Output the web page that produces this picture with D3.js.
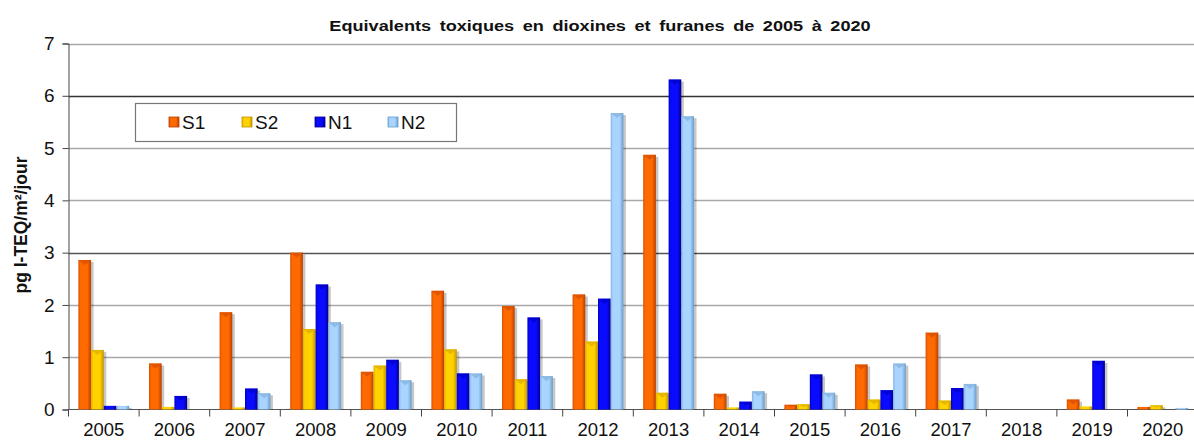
<!DOCTYPE html>
<head>
  <meta charset="utf-8">
  <title>Dioxines et furanes</title>
  <script src="https://d3js.org/d3.v7.min.js"></script>
  <style type="text/css">
    body {margin: 0; background: #fff;}
    text {font-family: 'Liberation Sans', Arial, sans-serif;}
  </style>
</head>
<body>
  <div id="viz"></div>
</body>
<script type="text/javascript">

  const years = ["2005","2006","2007","2008","2009","2010","2011","2012","2013","2014","2015","2016","2017","2018","2019","2020"];
  const seriesNames = ["S1", "S2", "N1", "N2"];
  const S1 = [2.86, 0.88, 1.86, 3.00, 0.72, 2.27, 1.98, 2.20, 4.87, 0.30, 0.09, 0.86, 1.47, 0, 0.19, 0.05];
  const S2 = [1.14, 0.05, 0.04, 1.54, 0.84, 1.15, 0.58, 1.30, 0.32, 0.04, 0.10, 0.19, 0.17, 0, 0.06, 0.08];
  const N1 = [0.07, 0.26, 0.40, 2.39, 0.95, 0.69, 1.76, 2.12, 6.31, 0.15, 0.67, 0.37, 0.41, 0, 0.93, 0];
  const N2 = [0.07, 0, 0.31, 1.67, 0.56, 0.69, 0.64, 5.67, 5.61, 0.35, 0.32, 0.88, 0.49, 0, 0, 0.03];
  const yTicks = [0, 1, 2, 3, 4, 5, 6, 7];

  const colorSet = {
    S1: ["#b84000", "#ff6a00", "#d85000"],
    S2: ["#c09400", "#ffd200", "#e0b000"],
    N1: ["#00008a", "#0a0aff", "#0000c8"],
    N2: ["#6a9cc8", "#a8d4ff", "#86b4e0"]
  };

  const FULLW = 1194, FULLH = 441;
  const X0 = 68.5, X1 = 68.5 + 70.6 * 16;
  const Y0 = 409.5, Y7 = 43.5;

  const rows = years.map((y, i) => ({ year: y, S1: S1[i], S2: S2[i], N1: N1[i], N2: N2[i] }));

  const x = d3.scaleBand().domain(years).range([X0, X1]).paddingInner(0.28).paddingOuter(0.14);
  const xOuter = d3.scaleBand().domain(years).range([X0, X1]);
  const xs = d3.scaleBand().domain(seriesNames).range([0, x.bandwidth()]);
  const y = d3.scaleLinear().domain([0, 7]).range([Y0, Y7]);

  const svg = d3.select("#viz").append("svg")
    .attr("width", FULLW).attr("height", FULLH);

  svg.append("rect").attr("width", FULLW).attr("height", FULLH).attr("fill", "#fff");

  const defs = svg.append("defs");
  seriesNames.forEach(s => {
    const g = defs.append("linearGradient").attr("id", "grad" + s)
      .attr("x1", "0%").attr("x2", "100%").attr("y1", "0%").attr("y2", "0%");
    g.append("stop").attr("offset", "0%").attr("stop-color", colorSet[s][2]);
    g.append("stop").attr("offset", "18%").attr("stop-color", colorSet[s][1]);
    g.append("stop").attr("offset", "70%").attr("stop-color", colorSet[s][1]);
    g.append("stop").attr("offset", "100%").attr("stop-color", colorSet[s][0]);
  });

  // gridlines
  svg.append("g").selectAll("line").data(yTicks.filter(d => d > 0)).join("line")
    .attr("x1", X0).attr("x2", FULLW)
    .attr("y1", d => Math.round(y(d)) + 0.5).attr("y2", d => Math.round(y(d)) + 0.5)
    .attr("stroke", d => (d === 6 ? "#333" : (d === 3 ? "#555" : "#a8a8a8")))
    .attr("stroke-width", 1.3);

  // y axis
  const yAxis = svg.append("g").attr("transform", "translate(" + X0 + ",0)")
    .call(d3.axisLeft(y).tickValues(yTicks).tickFormat(d3.format("d")).tickSize(6).tickPadding(8));
  yAxis.select(".domain").attr("stroke", "#444");
  yAxis.selectAll(".tick line").attr("stroke", "#444");
  yAxis.selectAll("text").attr("font-size", 19).attr("fill", "#111")
    .attr("font-family", "'Liberation Sans', Arial, sans-serif");

  // x axis (ticks at category boundaries)
  svg.append("line").attr("x1", X0).attr("x2", FULLW).attr("y1", Y0).attr("y2", Y0)
    .attr("stroke", "#555").attr("stroke-width", 1.2);
  svg.append("g").selectAll("line").data(years).join("line")
    .attr("x1", d => xOuter(d)).attr("x2", d => xOuter(d))
    .attr("y1", Y0).attr("y2", Y0 + 7).attr("stroke", "#444");
  svg.append("g").selectAll("text").data(years).join("text")
    .attr("x", d => xOuter(d) + xOuter.bandwidth() / 2)
    .attr("y", 435.5)
    .attr("text-anchor", "middle")
    .attr("font-size", 18.5).attr("fill", "#111")
    .text(d => d);

  // bars
  const bars = [];
  rows.forEach(r => seriesNames.forEach(s => { if (r[s] > 0) bars.push({ year: r.year, s: s, v: r[s] }); }));

  const barG = svg.append("g");
  // shadows
  barG.selectAll("rect.shadow").data(bars).join("rect").attr("class", "shadow")
    .attr("x", d => x(d.year) + xs(d.s) + 2.5)
    .attr("y", d => y(d.v) + 2)
    .attr("width", xs.bandwidth())
    .attr("height", d => Math.max(0, Y0 - y(d.v) - 2))
    .attr("fill", "#000").attr("opacity", 0.22);
  barG.selectAll("rect.bar").data(bars).join("rect").attr("class", "bar")
    .attr("x", d => x(d.year) + xs(d.s))
    .attr("y", d => y(d.v))
    .attr("width", xs.bandwidth())
    .attr("height", d => Y0 - y(d.v))
    .attr("fill", d => "url(#grad" + d.s + ")");
  // bevel at top
  barG.selectAll("polygon").data(bars.filter(d => Y0 - y(d.v) > 4)).join("polygon")
    .attr("points", d => {
      const bx = x(d.year) + xs(d.s), w = xs.bandwidth(), by = y(d.v);
      return [bx, by, bx + w, by, bx + w / 2, by + Math.min(5, (Y0 - by) / 2)].join(",");
    })
    .attr("fill", d => colorSet[d.s][2]).attr("opacity", 0.8);

  // title
  svg.append("text")
    .attr("transform", "translate(600,31) scale(1.17,1)")
    .attr("text-anchor", "middle")
    .attr("font-size", 15.5).attr("font-weight", "bold")
    .attr("word-spacing", 3)
    .attr("fill", "#111")
    .text("Equivalents toxiques en dioxines et furanes de 2005 à 2020");

  // y label
  svg.append("text")
    .attr("transform", "translate(27,225) rotate(-90)")
    .attr("text-anchor", "middle")
    .attr("font-size", 17.5).attr("font-weight", "bold")
    .attr("fill", "#111")
    .text("pg I-TEQ/m²/jour");

  // legend
  const leg = svg.append("g");
  leg.append("rect").attr("x", 135.5).attr("y", 103.5).attr("width", 321).attr("height", 38)
    .attr("fill", "#fff").attr("stroke", "#777").attr("stroke-width", 1.2);
  const li = leg.selectAll("g").data(seriesNames).join("g")
    .attr("transform", (d, i) => "translate(" + (169 + i * 73) + ",122)");
  li.append("rect").attr("x", 0).attr("y", -5).attr("width", 10).attr("height", 10)
    .attr("fill", d => "url(#grad" + d + ")").attr("stroke", d => colorSet[d][0]).attr("stroke-width", 0.8);
  li.append("text").attr("x", 13).attr("y", 7).attr("font-size", 19).attr("fill", "#111")
    .text(d => d);

</script>
</html>
